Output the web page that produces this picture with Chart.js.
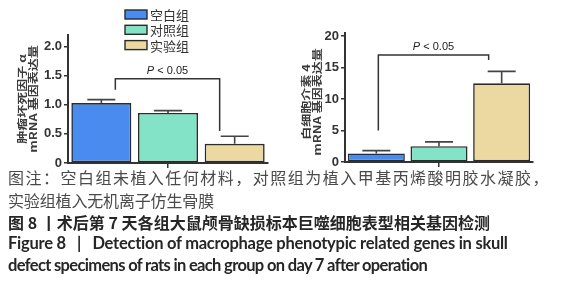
<!DOCTYPE html>
<html><head><meta charset="utf-8">
<script src="https://cdn.jsdelivr.net/npm/chart.js@4.4.1/dist/chart.umd.min.js"></script>
<style>
html,body{margin:0;padding:0;background:#fff;width:583px;height:300px;overflow:hidden}
#c1{position:absolute;left:0;top:0}
#c2{position:absolute;left:290px;top:0}
.cap{position:absolute;left:8px;white-space:pre;line-height:20px;height:20px}
.cn{font-family:"Noto Sans CJK SC";font-size:16px;color:#4a4a4a}
.cb{font-family:"Noto Sans CJK SC";font-size:16px;font-weight:bold;color:#262626}
.en{font-family:"Lato";font-size:16.5px;font-weight:bold;color:#262626}
</style></head><body>
<canvas id="c1" width="290" height="175"></canvas>
<canvas id="c2" width="293" height="175"></canvas>
<div class="cap cn" id="l1" style="top:167px"></div>
<div class="cap cn" id="l2" style="top:190px"></div>
<div class="cap cb" id="l3" style="top:212px"></div>
<div class="cap en" id="l4" style="top:233px"></div>
<div class="cap en" id="l5" style="top:255px"></div>
<script>
// ---- data ----
const groups = ['空白组', '对照组', '实验组'];
const tnfValues = [1.03, 0.86, 0.33];
const tnfErrors = [0.06, 0.04, 0.13];
const il4Values = [1.35, 2.5, 12.5];
const il4Errors = [0.45, 0.7, 1.9];
const tnfTicks = [0, 0.5, 1, 1.5, 2];
const tnfTickLabels = ['0', '0.5', '1.0', '1.5', '2.0'];
const il4Ticks = [0, 5, 10, 15, 20];
const il4TickLabels = ['0', '5', '10', '15', '20'];
const tnfTitle = ['肿瘤坏死因子 α', 'mRNA 基因表达量'];
const il4Title = ['白细胞介素 4', 'mRNA 基因表达量'];
const tnfBracket = [1.45, 1.26, 0.55];   // top, left end, right end
const il4Bracket = [17.0, 5.0, 16.2];
const pLabel = ['P', ' < 0.05'];
const captionLines = [
  '图注：空白组未植入任何材料，对照组为植入甲基丙烯酸明胶水凝胶，',
  '实验组植入无机离子仿生骨膜',
  '图 8 丨术后第 7 天各组大鼠颅骨缺损标本巨噬细胞表型相关基因检测',
  'Figure 8   |   Detection of macrophage phenotypic related genes in skull',
  'defect specimens of rats in each group on day 7 after operation'
];

// ---- style ----
const colors = ['#4a8bf0', '#82e3c6', '#ecd9a2'];
const ink = '#333333';
const captionWidths = [542, 206, 482, 500, 419];

const annot = {
  id: 'annot',
  afterDatasetsDraw(chart) {
    const o = chart.options.plugins.annot;
    const ctx = chart.ctx, ys = chart.scales.y;
    const bars = chart.getDatasetMeta(0).data;
    ctx.save();
    ctx.strokeStyle = '#444';
    ctx.lineWidth = 1.6;
    bars.forEach((b, i) => {
      const top = ys.getPixelForValue(o.values[i]);
      const e = ys.getPixelForValue(o.values[i] + o.errors[i]);
      ctx.beginPath();
      ctx.moveTo(b.x, top); ctx.lineTo(b.x, e);
      ctx.moveTo(b.x - o.cap, e); ctx.lineTo(b.x + o.cap, e);
      ctx.stroke();
    });
    const lx = bars[0].x + o.offL, rx = bars[2].x - o.offR;
    const ty = ys.getPixelForValue(o.bracket[0]);
    ctx.strokeStyle = ink;
    ctx.lineWidth = 1.5;
    ctx.beginPath();
    ctx.moveTo(lx, ys.getPixelForValue(o.bracket[1]));
    ctx.lineTo(lx, ty); ctx.lineTo(rx, ty);
    ctx.lineTo(rx, ys.getPixelForValue(o.bracket[2]));
    ctx.stroke();
    ctx.fillStyle = '#222';
    ctx.textBaseline = 'alphabetic';
    const f1 = 'italic 11px "Liberation Sans"', f2 = '11px "Liberation Sans"';
    ctx.font = f1; const w1 = ctx.measureText(pLabel[0]).width;
    ctx.font = f2; const w2 = ctx.measureText(pLabel[1]).width;
    let px = (lx + rx) / 2 - (w1 + w2) / 2;
    ctx.font = f1; ctx.textAlign = 'left'; ctx.fillText(pLabel[0], px, ty - 5);
    ctx.font = f2; ctx.fillText(pLabel[1], px + w1, ty - 5);
    ctx.fillStyle = '#3a3a3a';
    ctx.font = 'bold 13px "Noto Sans CJK SC"';
    ctx.textAlign = 'center'; ctx.textBaseline = 'middle';
    o.title.forEach((t, i) => {
      ctx.save();
      ctx.translate(o.titleX[i], o.titleY);
      ctx.rotate(-Math.PI / 2);
      ctx.scale(1, 0.75);
      ctx.fillText(t, 0, 0);
      ctx.restore();
    });
    if (o.legend) {
      ctx.textAlign = 'left';
      ctx.font = '13px "Noto Sans CJK SC"';
      groups.forEach((g, i) => {
        const y = 10 + 15.3 * i;
        ctx.fillStyle = colors[i];
        ctx.fillRect(125, y, 22, 9);
        ctx.strokeStyle = '#2a2a2a'; ctx.lineWidth = 1.4;
        ctx.strokeRect(125, y, 22, 9);
        ctx.fillStyle = '#333';
        ctx.fillText(g, 150, y + 5);
      });
    }
    ctx.restore();
  }
};

function makeChart(id, values, errors, ticks, tickLabels, yMax, lay, extra) {
  return new Chart(document.getElementById(id), {
    type: 'bar',
    data: { labels: groups, datasets: [{
      data: values, backgroundColor: colors, borderColor: '#2b2b2b',
      borderWidth: 1.6, borderSkipped: false,
      barPercentage: lay.bp, categoryPercentage: 1
    }]},
    options: {
      responsive: false, animation: false, devicePixelRatio: 1,
      layout: { padding: { left: 0, top: lay.top, right: lay.right, bottom: lay.bottom } },
      plugins: { legend: { display: false }, tooltip: { enabled: false },
        annot: Object.assign({ values, errors }, extra) },
      scales: {
        y: {
          min: 0, max: yMax,
          afterBuildTicks: s => { s.ticks = ticks.map(v => ({ value: v })); },
          afterFit: s => { s.width = lay.yw; },
          ticks: { callback: (v, i) => tickLabels[i], color: '#333', padding: 2,
            font: { family: 'Liberation Sans', weight: 'bold', size: 13 } },
          grid: { drawOnChartArea: false, tickLength: 4, color: ink, lineWidth: 1.5 },
          border: { color: ink, width: 2 }
        },
        x: {
          ticks: { display: false },
          grid: { offset: false, drawOnChartArea: false, tickLength: 5, lineWidth: 1.5,
            color: c => c.index === 1 ? ink : 'rgba(0,0,0,0)' },
          border: { color: ink, width: 2 },
          afterFit: s => { s.height = 8; }
        }
      }
    },
    plugins: [annot]
  });
}

makeChart('c1', tnfValues, tnfErrors, tnfTicks, tnfTickLabels, 2.2,
  { top: 35, right: 22, bottom: 4, yw: 68, bp: 0.9 },
  { bracket: tnfBracket, offL: 14, offR: 15, cap: 14, title: tnfTitle, titleX: [22, 33.5], titleY: 99, legend: true });
makeChart('c2', il4Values, il4Errors, il4Ticks, il4TickLabels, 20.5,
  { top: 33, right: 50, bottom: 5, yw: 55, bp: 0.91 },
  { bracket: il4Bracket, offL: 2, offR: 13, cap: 14, title: il4Title, titleX: [306 - 290, 317.5 - 290], titleY: 102, legend: false });

captionLines.forEach((t, i) => {
  const el = document.getElementById('l' + (i + 1));
  el.textContent = t;
  const w = el.getBoundingClientRect().width;
  const n = [...t].length;
  el.style.letterSpacing = ((captionWidths[i] - w) / n) + 'px';
});
</script>
</body></html>
